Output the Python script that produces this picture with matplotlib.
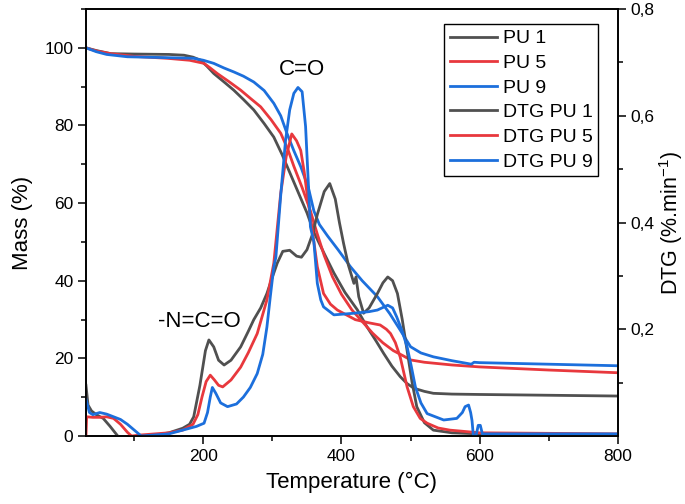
import matplotlib
matplotlib.use("Agg")
import matplotlib.pyplot as plt
import matplotlib.ticker as ticker
import numpy as np

plt.rcParams['font.family'] = ['Liberation Sans', 'DejaVu Sans']
plt.rcParams['mathtext.default'] = 'regular'

# TG curves (temperature in °C, mass in %)
tg_pu1_t = [30, 45, 66, 100, 150, 172, 185, 196, 205, 215, 230, 244, 258, 273, 288, 302, 314, 326, 338,
            350, 360, 375, 389, 405, 423, 437, 450, 461, 473, 485, 495, 505, 520, 533, 560, 600, 700, 800]
tg_pu1 = [100, 99.3, 98.5, 98.4, 98.3, 98.1, 97.6, 96.8, 95.3, 93.4, 91.2, 89.1, 86.7, 84, 80.5, 77, 72.5,
          67.5, 62.5, 57.5, 52.5, 47, 42, 37, 32.5, 28.1, 24.5, 21.3, 18, 15.3, 13.5, 12.3, 11.5, 11, 10.8,
          10.7, 10.5, 10.3]

tg_pu5_t = [30, 45, 66, 100, 148, 180, 201, 210, 220, 237, 254, 268, 283, 298, 312, 322, 331, 343, 355,
            365, 375, 387, 400, 415, 430, 445, 460, 475, 490, 500, 520, 560, 600, 700, 800]
tg_pu5 = [100, 99.2, 98.5, 97.8, 97.3, 96.8, 96, 94.8, 93.4, 91.3, 89.1, 87, 84.8, 81.5, 78, 74, 69.5, 64,
          58, 52, 46.5, 41, 36.5, 32.5, 29.5, 26.5, 24, 22, 20.6, 19.6, 19, 18.3, 17.8, 17, 16.3]

tg_pu9_t = [30, 45, 60, 90, 140, 186, 200, 215, 230, 244, 258, 273, 288, 302, 312, 321, 331, 341, 352,
            360, 368, 380, 395, 413, 430, 452, 470, 485, 500, 515, 533, 560, 582, 588, 592, 600, 700, 800]
tg_pu9 = [100, 99, 98.3, 97.7, 97.5, 97.3, 96.8, 96, 94.8, 93.8, 92.7, 91.2, 89, 85.7, 82.5, 78, 73.5, 69.4,
          64, 58, 54.5, 51.5, 48, 43.6, 40, 35.9, 31.5, 27.3, 23, 21.4, 20.4, 19.4, 18.7, 18.5, 19, 18.9,
          18.5, 18.1]

# DTG curves (%.min-1)
dtg_pu1_t = [30, 33, 38, 45, 55, 65, 76, 90, 110, 130, 150, 170, 180, 186, 195, 203, 208, 215, 222, 230,
             240, 254, 265, 273, 283, 292, 300, 307, 315, 325, 335, 342, 350, 358, 365, 375, 383, 391, 397,
             403, 410, 418, 421, 425, 432, 440, 452, 460, 467, 474, 481, 488, 495, 502, 509, 520, 533, 560,
             600, 800]
dtg_pu1 = [0.095, 0.058, 0.047, 0.040, 0.033, 0.018, 0.0, -0.01, -0.01, 0.0015, 0.006, 0.0145, 0.022,
           0.036, 0.095, 0.160, 0.180, 0.167, 0.142, 0.133, 0.142, 0.167, 0.196, 0.218, 0.240, 0.267,
           0.298, 0.324, 0.346, 0.348, 0.337, 0.335, 0.349, 0.378, 0.415, 0.458, 0.473, 0.444, 0.400,
           0.361, 0.320, 0.286, 0.298, 0.261, 0.230, 0.240, 0.267, 0.287, 0.298, 0.291, 0.267, 0.218,
           0.160, 0.102, 0.055, 0.025, 0.011, 0.006, 0.004, 0.003]

dtg_pu5_t = [30, 31, 40, 50, 60, 70, 80, 90, 96, 110, 130, 150, 170, 185, 192, 198, 204, 210, 216, 222,
             228, 240, 254, 265, 278, 292, 302, 312, 320, 328, 335, 341, 346, 350, 357, 365, 374, 384,
             394, 420, 440, 456, 465, 471, 478, 485, 495, 504, 514, 524, 540, 557, 600, 800]
dtg_pu5 = [0.0, 0.036, 0.035, 0.035, 0.036, 0.033, 0.022, 0.007, 0.0, 0.002, 0.004, 0.006, 0.011, 0.022,
           0.040, 0.073, 0.102, 0.114, 0.105, 0.095, 0.092, 0.105, 0.129, 0.156, 0.192, 0.255, 0.324,
           0.455, 0.524, 0.566, 0.553, 0.535, 0.495, 0.455, 0.392, 0.317, 0.267, 0.247, 0.236, 0.218,
           0.212, 0.208, 0.200, 0.192, 0.175, 0.148, 0.092, 0.055, 0.033, 0.024, 0.015, 0.011, 0.006,
           0.004]

dtg_pu9_t = [30, 35, 40, 50, 60, 70, 80, 90, 100, 110, 130, 150, 170, 190, 201, 206, 210, 213, 218, 225,
             235, 248, 258, 268, 278, 286, 292, 297, 302, 305, 312, 319, 325, 331, 337, 343, 348, 352.7,
             355, 360, 365, 370, 374, 389, 418, 440, 452, 467, 474, 480, 488, 495, 501, 507, 515, 524,
             548, 567, 575, 579, 584, 587, 589, 591, 595, 598, 601, 604, 620, 800]
dtg_pu9 = [0.069, 0.044, 0.040, 0.044, 0.041, 0.036, 0.031, 0.022, 0.011, 0.0, 0.002, 0.004, 0.011,
           0.018, 0.024, 0.044, 0.073, 0.091, 0.080, 0.062, 0.055, 0.060, 0.073, 0.091, 0.117, 0.153,
           0.204, 0.262, 0.317, 0.335, 0.451, 0.554, 0.611, 0.642, 0.653, 0.645, 0.580, 0.455, 0.392,
           0.364, 0.286, 0.255, 0.242, 0.227, 0.230, 0.233, 0.236, 0.245, 0.240, 0.223, 0.196, 0.167,
           0.131, 0.092, 0.062, 0.042, 0.030, 0.033, 0.044, 0.055, 0.058, 0.044, 0.029, 0.0, 0.0015,
           0.020, 0.020, 0.004, 0.004, 0.004]

c_gray = '#505050'
c_red = '#e8383d'
c_blue = '#1c6fdc'
lw = 2.0

fig = plt.figure(figsize=(6.85, 5.04), dpi=100)
ax = fig.add_axes([0.1255, 0.1349, 0.7763, 0.8472])
ax2 = ax.twinx()

l1, = ax.plot(tg_pu1_t, tg_pu1, color=c_gray, lw=lw, label='PU 1')
l2, = ax.plot(tg_pu5_t, tg_pu5, color=c_red, lw=lw, label='PU 5')
l3, = ax.plot(tg_pu9_t, tg_pu9, color=c_blue, lw=lw, label='PU 9')
l4, = ax2.plot(dtg_pu1_t, dtg_pu1, color=c_gray, lw=lw, label='DTG PU 1')
l5, = ax2.plot(dtg_pu5_t, dtg_pu5, color=c_red, lw=lw, label='DTG PU 5')
l6, = ax2.plot(dtg_pu9_t, dtg_pu9, color=c_blue, lw=lw, label='DTG PU 9')

ax.set_xlim(30, 800)
ax.set_ylim(0, 110)
ax2.set_ylim(0, 0.8)

ax.set_xticks([200, 400, 600, 800])
ax.xaxis.set_minor_locator(ticker.MultipleLocator(100))
ax.set_yticks([0, 20, 40, 60, 80, 100])
ax.yaxis.set_minor_locator(ticker.MultipleLocator(10))
ax2.set_yticks([0.2, 0.4, 0.6, 0.8])
ax2.set_yticklabels(['0,2', '0,4', '0,6', '0,8'])
ax2.yaxis.set_minor_locator(ticker.FixedLocator([0.1, 0.3, 0.5, 0.7]))

for a in (ax, ax2):
    a.tick_params(which='major', direction='out', length=5.5, width=1.1, labelsize=12.5)
    a.tick_params(which='minor', direction='out', length=3.5, width=1.1)
    for s in a.spines.values():
        s.set_linewidth(1.2)

ax.set_xlabel('Temperature (°C)', fontsize=16, labelpad=6)
ax.set_ylabel('Mass (%)', fontsize=16, labelpad=8)
ax2.set_ylabel('DTG (%.min$^{-1}$)', fontsize=15.5)
ax2.yaxis.set_label_coords(1.074, 0.5)

ax.text(343, 94.3, 'C=O', fontsize=16, ha='center', va='center')
ax.text(193.6, 29.4, '-N=C=O', fontsize=16, ha='center', va='center')

leg = ax2.legend(handles=[l1, l2, l3, l4, l5, l6], loc='upper right',
                 bbox_to_anchor=(0.9635, 0.9649), borderaxespad=0, fontsize=14,
                 fancybox=False, framealpha=1, edgecolor='black', handlelength=2.4,
                 handletextpad=0.3, borderpad=0.3, labelspacing=0.36)
leg.get_frame().set_linewidth(1.0)

fig.savefig('out.png', dpi=100)
